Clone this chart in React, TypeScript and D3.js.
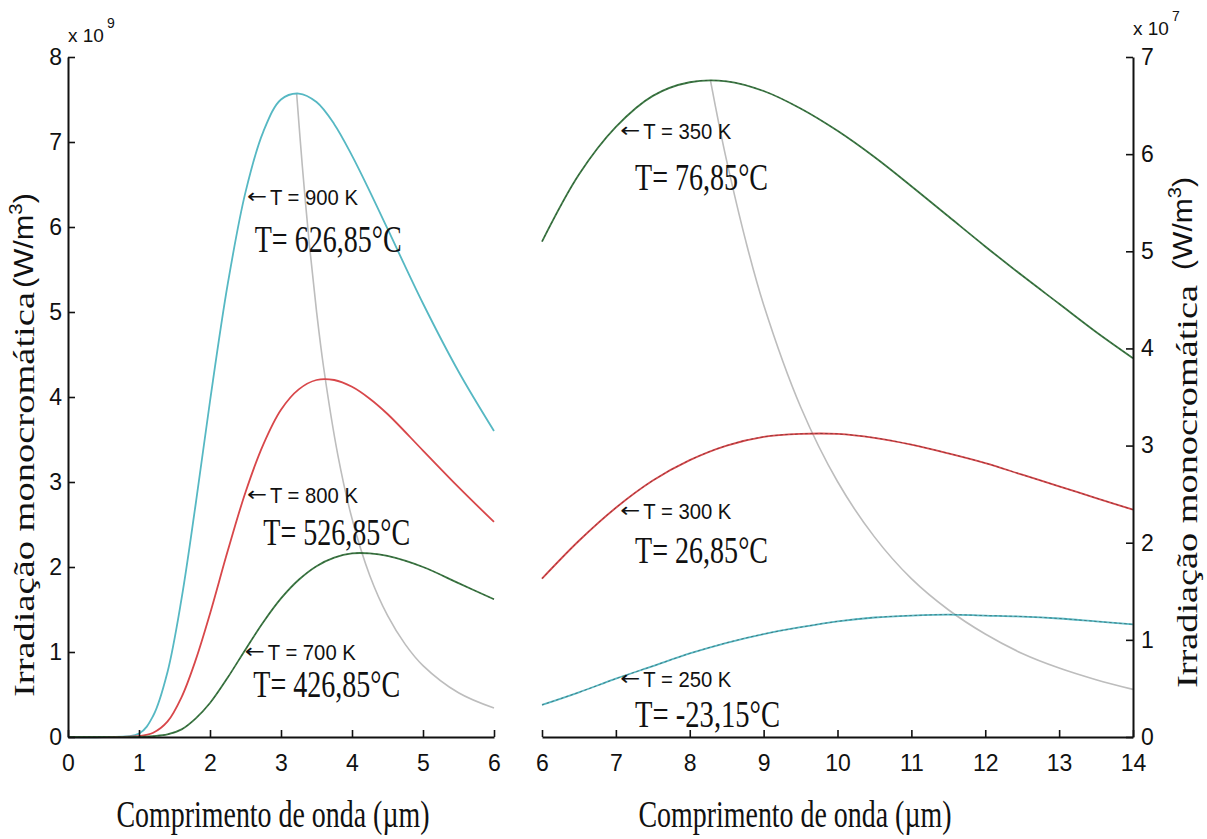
import { useEffect, useRef } from "react";
import * as d3 from "d3";

const W = 1207;
const H = 839;
const SANS = "'Liberation Sans', Arial, sans-serif";
const SERIF = "'Liberation Serif', 'Times New Roman', serif";

// left panel: wavelength (µm) / irradiance (x 1e9 W/m³)
const leftLambda = [0, 0.5, 1.0, 1.2, 1.4, 1.6, 1.8, 2.0, 2.25, 2.5, 2.75, 3.0, 3.25, 3.5, 3.75, 4.0, 4.25, 4.5, 5.0, 5.5, 6.0];
const t900 = [0, 0, 0.04, 0.25, 0.76, 1.63, 2.75, 3.95, 5.33, 6.41, 7.12, 7.5, 7.57, 7.47, 7.21, 6.84, 6.42, 5.98, 5.1, 4.3, 3.6];
const t800 = [0, 0, 0.01, 0.05, 0.18, 0.47, 0.91, 1.45, 2.19, 2.88, 3.44, 3.85, 4.09, 4.2, 4.2, 4.12, 3.98, 3.8, 3.37, 2.94, 2.53];
const t700 = [0, 0, 0, 0.01, 0.03, 0.09, 0.22, 0.4, 0.7, 1.03, 1.35, 1.63, 1.85, 2.01, 2.11, 2.16, 2.16, 2.13, 2.0, 1.81, 1.62];
const leftPeakLambda = [3.22, 3.3, 3.4, 3.5, 3.6, 3.8, 4.0, 4.25, 4.5, 4.75, 5.0, 5.5, 6.0];
const leftPeakValue = [7.57, 6.72, 5.79, 5.01, 4.35, 3.32, 2.57, 1.9, 1.43, 1.09, 0.84, 0.52, 0.34];

// right panel: wavelength (µm) / irradiance (x 1e7 W/m³)
const rightLambda = [6, 6.5, 7, 7.5, 8, 8.5, 9, 9.5, 10, 10.5, 11, 11.5, 12, 12.5, 13, 13.5, 14];
const t350 = [5.1, 5.79, 6.28, 6.6, 6.74, 6.75, 6.65, 6.47, 6.24, 5.97, 5.67, 5.36, 5.05, 4.75, 4.46, 4.17, 3.9];
const t300 = [1.63, 2.02, 2.36, 2.64, 2.85, 3.0, 3.09, 3.12, 3.12, 3.08, 3.01, 2.92, 2.82, 2.7, 2.58, 2.46, 2.34];
const t250 = [0.33, 0.46, 0.6, 0.73, 0.86, 0.97, 1.06, 1.13, 1.19, 1.23, 1.25, 1.26, 1.25, 1.24, 1.22, 1.19, 1.16];
const rightPeakLambda = [8.28, 8.4, 8.5, 8.75, 9, 9.5, 10, 10.5, 11, 11.5, 12, 12.5, 13, 13.5, 14];
const rightPeakValue = [6.76, 6.29, 5.93, 5.13, 4.45, 3.4, 2.63, 2.06, 1.63, 1.31, 1.06, 0.86, 0.71, 0.59, 0.49];

const leftXTicks = [0, 1, 2, 3, 4, 5, 6];
const leftYTicks = [0, 1, 2, 3, 4, 5, 6, 7, 8];
const rightXTicks = [6, 7, 8, 9, 10, 11, 12, 13, 14];
const rightYTicks = [0, 1, 2, 3, 4, 5, 6, 7];

const CYAN = "#56b8c3";
const RED = "#d8474a";
const GREEN = "#3d7c45";
const GRAY = "#bdbdbd";

// labels anchored in data coordinates
const leftNotes = [
  { k: "T = 900 K", c: "T= 626,85°C", x: 2.52, y: 6.26, cx: 2.63, cy: 5.71, cw: 147 },
  { k: "T = 800 K", c: "T= 526,85°C", x: 2.52, y: 2.75, cx: 2.75, cy: 2.26, cw: 147 },
  { k: "T = 700 K", c: "T= 426,85°C", x: 2.49, y: 0.91, cx: 2.61, cy: 0.47, cw: 147 },
];
const rightNotes = [
  { k: "T = 350 K", c: "T= 76,85°C", x: 7.06, y: 6.16, cx: 7.26, cy: 5.63, cw: 133 },
  { k: "T = 300 K", c: "T= 26,85°C", x: 7.06, y: 2.24, cx: 7.26, cy: 1.79, cw: 133 },
  { k: "T = 250 K", c: "T= -23,15°C", x: 7.06, y: 0.51, cx: 7.26, cy: 0.1, cw: 145 },
];

const xL = d3.scaleLinear().domain([0, 6]).range([68, 494]);
const yL = d3.scaleLinear().domain([0, 8]).range([737, 57]);
const xR = d3.scaleLinear().domain([6, 14]).range([542, 1133]);
const yR = d3.scaleLinear().domain([0, 7]).range([737, 57]);

const path = (xs: number[], ys: number[], x: any, y: any) =>
  d3
    .line<number>()
    .x((_, i) => x(xs[i]))
    .y((d) => Math.min(y(d), y(0)))
    .curve(d3.curveCatmullRom.alpha(0.5))(ys) || "";

export default function App() {
  const svgRef = useRef<SVGSVGElement>(null);

  useEffect(() => {
    if (!svgRef.current) return;
    const svg = d3.select(svgRef.current);
    svg.selectAll(".axis").remove();

    const style = (g: any) => {
      g.select(".domain").attr("stroke", "#111").attr("stroke-width", 2);
      g.selectAll(".tick line").attr("stroke", "#111").attr("stroke-width", 1.6);
      g.selectAll(".tick text")
        .attr("fill", "#111")
        .attr("font-size", 23)
        .attr("font-family", SANS);
    };

    svg.append("g").attr("class", "axis")
      .attr("transform", `translate(0,${yL(0)})`)
      .call(d3.axisBottom(xL).tickValues(leftXTicks).tickSize(-7).tickSizeOuter(0).tickPadding(18).tickFormat(d3.format("d")))
      .call(style);
    svg.append("g").attr("class", "axis")
      .attr("transform", `translate(${xL(0)},0)`)
      .call(d3.axisLeft(yL).tickValues(leftYTicks).tickSize(-7).tickSizeOuter(0).tickPadding(6).tickFormat(d3.format("d")))
      .call(style);
    svg.append("g").attr("class", "axis")
      .attr("transform", `translate(0,${yR(0)})`)
      .call(d3.axisBottom(xR).tickValues(rightXTicks).tickSize(-7).tickSizeOuter(0).tickPadding(18).tickFormat(d3.format("d")))
      .call(style);
    svg.append("g").attr("class", "axis")
      .attr("transform", `translate(${xR(14)},0)`)
      .call(d3.axisRight(yR).tickValues(rightYTicks).tickSize(-7).tickSizeOuter(0).tickPadding(8).tickFormat(d3.format("d")))
      .call(style);
  }, []);

  const curve = (d: string, color: string, dotted: boolean) => (
    <g>
      <path d={d} fill="none" stroke={color} strokeWidth={1.8} />
      {dotted && (
        <path d={d} fill="none" stroke="#222" strokeOpacity={0.45} strokeWidth={0.9} strokeDasharray="2.5 2.5" />
      )}
    </g>
  );

  const notes = (list: typeof leftNotes, x: any, y: any) =>
    list.map((n) => (
      <g key={n.k}>
        <text x={x(n.x)} y={y(n.y) - 2} fontFamily="'DejaVu Sans', sans-serif" fontSize={20} fill="#111"
          textLength={20} lengthAdjust="spacingAndGlyphs">←</text>
        <text x={x(n.x) + 23} y={y(n.y)} fontFamily={SANS} fontSize={22} fill="#111"
          textLength={88} lengthAdjust="spacingAndGlyphs">{n.k}</text>
        <text x={x(n.cx)} y={y(n.cy)} fontFamily={SERIF} fontSize={37} fill="#111"
          textLength={n.cw} lengthAdjust="spacingAndGlyphs">{n.c}</text>
      </g>
    ));

  return (
    <svg ref={svgRef} width={W} height={H} style={{ position: "absolute", left: 0, top: 0, background: "#fff" }}>
      <rect width={W} height={H} fill="#fff" />

      {/* left panel */}
      <path d={path(leftPeakLambda, leftPeakValue, xL, yL)} fill="none" stroke={GRAY} strokeWidth={1.6} />
      {curve(path(leftLambda, t900, xL, yL), CYAN, false)}
      {curve(path(leftLambda, t800, xL, yL), RED, false)}
      {curve(path(leftLambda, t700, xL, yL), GREEN, true)}
      {notes(leftNotes, xL, yL)}

      {/* right panel */}
      <path d={path(rightPeakLambda, rightPeakValue, xR, yR)} fill="none" stroke={GRAY} strokeWidth={1.6} />
      {curve(path(rightLambda, t350, xR, yR), GREEN, true)}
      {curve(path(rightLambda, t300, xR, yR), RED, true)}
      {curve(path(rightLambda, t250, xR, yR), CYAN, true)}
      {notes(rightNotes, xR, yR)}

      {/* exponent labels */}
      <text x={68} y={42} fontFamily={SANS} fontSize={19} fill="#111">
        x 10<tspan fontSize={14} dx={3} dy={-14}>9</tspan>
      </text>
      <text x={1133} y={35} fontFamily={SANS} fontSize={19} fill="#111">
        x 10<tspan fontSize={14} dx={3} dy={-14}>7</tspan>
      </text>

      {/* axis titles */}
      <text x={273} y={827} textAnchor="middle" fontFamily={SERIF} fontSize={37} fill="#111"
        textLength={313} lengthAdjust="spacingAndGlyphs">Comprimento de onda (µm)</text>
      <text x={795} y={827} textAnchor="middle" fontFamily={SERIF} fontSize={37} fill="#111"
        textLength={313} lengthAdjust="spacingAndGlyphs">Comprimento de onda (µm)</text>

      <g transform="translate(34,697) rotate(-90)">
        <text x={0} y={0} fontFamily={SERIF} fontSize={30} fill="#111"
          textLength={405} lengthAdjust="spacingAndGlyphs">Irradiação monocromática</text>
        <text x={409} y={-1} fontFamily={SANS} fontSize={27} fill="#111"
          textLength={95} lengthAdjust="spacingAndGlyphs">
          (W/m<tspan fontSize={18} dy={-11}>3</tspan><tspan dy={11}>)</tspan>
        </text>
      </g>
      <g transform="translate(1197,688) rotate(-90)">
        <text x={0} y={0} fontFamily={SERIF} fontSize={30} fill="#111"
          textLength={403} lengthAdjust="spacingAndGlyphs">Irradiação monocromática</text>
        <text x={418} y={-5} fontFamily={SANS} fontSize={27} fill="#111"
          textLength={93} lengthAdjust="spacingAndGlyphs">
          (W/m<tspan fontSize={18} dy={-11}>3</tspan><tspan dy={11}>)</tspan>
        </text>
      </g>
    </svg>
  );
}
